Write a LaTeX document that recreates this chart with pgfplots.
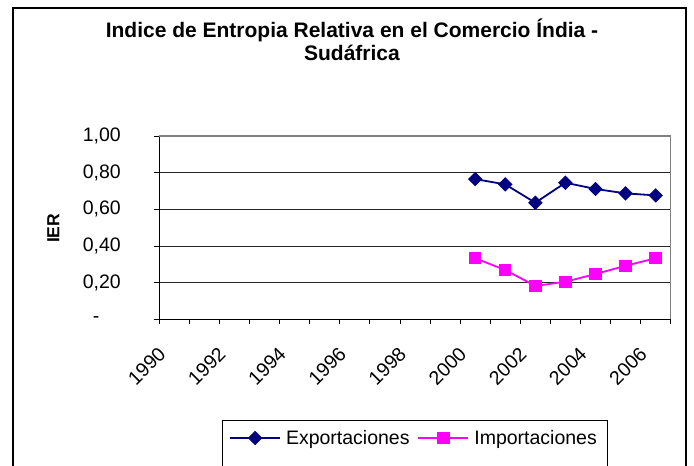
\documentclass[border=0pt]{standalone}
\usepackage{fontspec}
\setmainfont{Liberation Sans}
\usepackage{pgfplots}
\pgfplotsset{compat=1.18}
\definecolor{navyS}{RGB}{0,0,128}
\definecolor{magS}{RGB}{255,0,255}
\begin{document}
\begin{tikzpicture}
\useasboundingbox (0,0) rectangle (694bp,466bp);
\fill[white] (0,0) rectangle (694bp,466bp);
\begin{scope}
\clip (0,0) rectangle (694bp,466bp);
\draw[line width=1.3bp] (13bp,-10bp) |- (686bp,458bp) -- (686bp,-10bp);
\draw[line width=1bp] (222bp,-10bp) |- (607bp,45.3bp) -- (607bp,-10bp);
\end{scope}
\begin{axis}[
  at={(159.3bp,146.7bp)}, anchor=south west,
  scale only axis, width=511.4bp, height=183.3bp,
  xmin=1989.5, xmax=2006.5, ymin=0, ymax=1,
  clip=false,
  axis x line*=bottom, axis y line*=left,
  axis line style={-, black, line width=1bp},
  tick align=outside, major tick length=5bp, minor tick length=5bp,
  tick style={black, line width=0.9bp},
  xtick={1990,1991,...,2006},
  xticklabels={1990,,1992,,1994,,1996,,1998,,2000,,2002,,2004,,2006},
  major x tick style={draw=none},
  minor xtick={1989.5,1990.5,1991.5,1992.5,1993.5,1994.5,1995.5,1996.5,1997.5,1998.5,1999.5,2000.5,2001.5,2002.5,2003.5,2004.5,2005.5,2006.5},
  ytick={0,0.2,0.4,0.6,0.8,1},
  yticklabels={\makebox[37bp][l]{\hspace{9bp}-},{0,20},{0,40},{0,60},{0,80},{1,00}},
  ymajorgrids, grid style={black!85, line width=0.9bp},
  every tick label/.append style={font=\fontsize{19.5bp}{22bp}\selectfont},
  yticklabel style={anchor=east, inner sep=0pt, xshift=-33.3bp},
  xticklabel style={rotate=45, anchor=north east, inner sep=0pt, xshift=-27.2bp, yshift=-2.85bp},
  title={Indice de Entropia Relativa en el Comercio Índia -\\Sudáfrica},
  title style={at={(axis description cs:0.3768,1.3764)}, anchor=south, inner sep=0pt, align=center, font=\bfseries\fontsize{21bp}{23bp}\selectfont},
  ylabel={IER},
  ylabel style={at={(axis description cs:-0.2073,0.4965)}, anchor=center, inner sep=0pt, font=\bfseries\fontsize{17.5bp}{20bp}\selectfont},
  legend columns=2,
  legend cell align=left,
  legend style={at={(axis description cs:0.1363,-0.6476)}, anchor=west, draw=none, fill=none, inner sep=0pt, column sep=0pt, row sep=0pt, nodes={inner sep=0pt}, font=\fontsize{19.5bp}{22bp}\selectfont},
  legend image code/.code={\draw[mark repeat=2,mark phase=2,#1] plot coordinates {(0bp,0bp) (25bp,0bp) (50bp,0bp)};},
  after end axis/.code={\draw[black!50, line width=1.3bp] (rel axis cs:0,1) -- (rel axis cs:1,1) -- (rel axis cs:1,0);},
]
\addplot[navyS, line width=1.8bp, mark=square*, mark size=4.2bp, mark options={rotate=45, solid, fill=navyS}]
  coordinates {(2000,0.765) (2001,0.736) (2002,0.636) (2003,0.745) (2004,0.711) (2005,0.687) (2006,0.676)};
\addlegendentry{\hspace*{5bp}Exportaciones\hspace*{8bp}}
\addplot[magS, line width=1.8bp, mark=square*, mark size=5.3bp, mark options={solid, fill=magS}]
  coordinates {(2000,0.333) (2001,0.269) (2002,0.182) (2003,0.205) (2004,0.247) (2005,0.292) (2006,0.333)};
\addlegendentry{\hspace*{5bp}Importaciones}
\end{axis}
\end{tikzpicture}
\end{document}
